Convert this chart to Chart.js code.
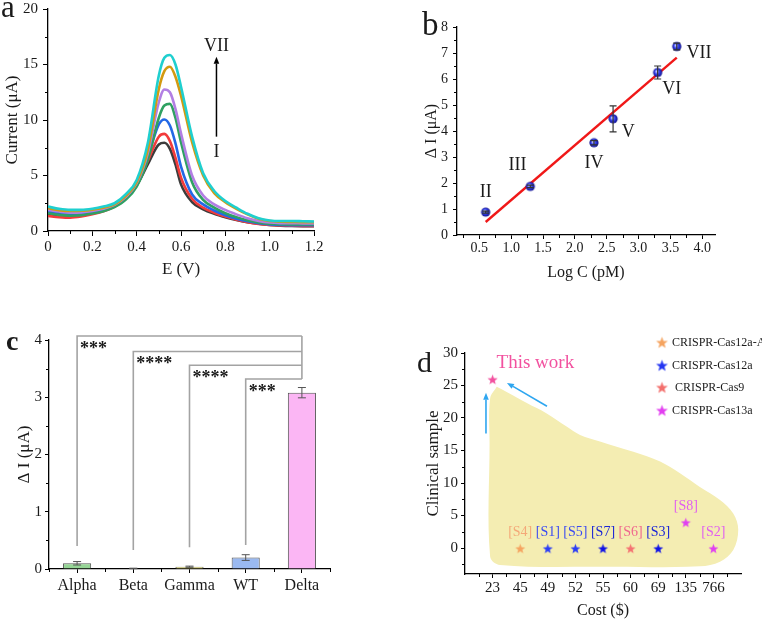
<!DOCTYPE html>
<html><head><meta charset="utf-8">
<script src="https://cdn.jsdelivr.net/npm/chart.js@4.4.1/dist/chart.umd.min.js"></script>
<style>
html,body{margin:0;padding:0;background:#fff;width:762px;height:619px;overflow:hidden;position:relative}
canvas{position:absolute}
</style></head><body>
<canvas id="ca" style="left:0;top:0" width="380" height="300"></canvas>
<canvas id="cb" style="left:380px;top:0" width="382" height="300"></canvas>
<canvas id="cc" style="left:0;top:300px" width="400" height="319"></canvas>
<canvas id="cd" style="left:400px;top:300px" width="362" height="319"></canvas>
<script>
// ---------------- Panel a data ----------------
const potentials = [0,0.05,0.1,0.15,0.2,0.25,0.3,0.35,0.4,0.45,0.5,0.525,0.55,0.575,0.6,0.65,0.7,0.75,0.8,0.85,0.9,0.95,1.0,1.05,1.1,1.15,1.2];
const curveNames = ['I','II','III','IV','V','VI','VII'];
const curveI   = [1.5,1.42,1.38,1.42,1.6,1.85,2.25,2.9,4.1,6.0,7.8,7.95,7.4,6.0,4.2,2.6,1.95,1.55,1.25,1.0,0.8,0.65,0.54,0.48,0.45,0.44,0.44];
const curveII  = [1.35,1.25,1.2,1.3,1.5,1.78,2.2,2.9,4.2,6.3,8.5,8.75,8.1,6.6,4.8,2.9,2.1,1.65,1.3,1.02,0.8,0.64,0.54,0.49,0.47,0.46,0.46];
const curveIII = [1.75,1.6,1.52,1.55,1.7,1.9,2.3,3.0,4.3,6.7,9.6,10.05,9.5,7.9,5.8,3.3,2.4,1.85,1.42,1.1,0.87,0.7,0.6,0.55,0.53,0.52,0.52];
const curveIV  = [1.6,1.45,1.38,1.42,1.57,1.78,2.15,2.8,4.0,6.4,10.2,11.3,11.45,10.2,8.0,4.4,2.8,2.1,1.6,1.25,0.97,0.77,0.66,0.61,0.59,0.58,0.58];
const curveV   = [1.9,1.75,1.65,1.68,1.8,2.0,2.35,3.05,4.3,7.0,11.6,12.75,12.5,11.0,8.8,5.0,3.2,2.4,1.9,1.5,1.15,0.9,0.76,0.71,0.7,0.69,0.68];
const curveVI  = [2.05,1.88,1.8,1.82,1.92,2.1,2.4,3.15,4.4,7.3,12.8,14.4,14.8,13.9,12.2,8.0,5.0,3.4,2.6,2.0,1.5,1.1,0.9,0.84,0.82,0.8,0.8];
const curveVII = [2.2,2.0,1.9,1.9,2.0,2.2,2.5,3.3,4.6,7.9,14.0,15.6,15.85,15.0,13.0,8.5,5.2,3.6,2.7,2.1,1.55,1.15,0.95,0.9,0.9,0.88,0.86];
const aXTicks = [0,0.2,0.4,0.6,0.8,1.0,1.2];
const aYTicks = [0,5,10,15,20];

// ---------------- Panel b data ----------------
const logC = [0.6,1.3,2.3,2.6,3.3,3.6];
const deltaI = [0.88,1.87,3.55,4.47,6.25,7.25];
const deltaIErr = [0.04,0.05,0.08,0.5,0.25,0.13];
const pointNames = ['II','III','IV','V','VI','VII'];
const fitLogC = [0.6,3.6];
const fitDeltaI = [0.5,6.82];
const bXTicks = [0.5,1.0,1.5,2.0,2.5,3.0,3.5,4.0];
const bYTicks = [0,1,2,3,4,5,6,7,8];

// ---------------- Panel c data ----------------
const variants = ['Alpha','Beta','Gamma','WT','Delta'];
const variantSignal = [0.1,0.01,0.04,0.2,3.08];
const variantErr = [0.03,0.004,0.01,0.05,0.09];
const sigFrom = ['Alpha','Beta','Gamma','WT'];
const sigLabels = ['***','****','****','***'];
const sigLevels = [4.07,3.80,3.56,3.32];
const sigBase = [0.4,0.33,0.38,0.42];
const cYTicks = [0,1,2,3,4];

// ---------------- Panel d data ----------------
const costLabels = ['23','45','49','52','55','60','69','135','766'];
const refNames = ['[S4]','[S1]','[S5]','[S7]','[S6]','[S3]','[S8]','[S2]'];
const refCostIndex = [1,2,3,4,5,6,7,8];
const refClinical = [0,0,0,0,0,0,4,0];
const refSystem = ['CRISPR-Cas12a-Ag','CRISPR-Cas12a','CRISPR-Cas12a','CRISPR-Cas12a','CRISPR-Cas9','CRISPR-Cas12a','CRISPR-Cas13a','CRISPR-Cas13a'];
const thisWorkCostIndex = [0];
const thisWorkClinical = [26];
const systems = ['CRISPR-Cas12a-Ag','CRISPR-Cas12a','CRISPR-Cas9','CRISPR-Cas13a'];
const regionCost = [0.15,0.51,1.24,1.96,2.68,3.17,3.89,5.1,6.07,6.79,7.51,8.24,8.72,8.9,8.72,8.24,7.51,4.0,0.27,-0.09,-0.11,-0.09,0.15];
const regionClinical = [24.8,24.0,22.3,20.7,18.7,17.4,16.4,14.8,13.3,11.5,9.4,7.4,5.3,2.8,-0.3,-2.1,-2.8,-2.9,-2.6,-1.3,16.2,23.0,24.8];
const dXTicks = [0,1,2,3,4,5,6,7,8];
const dYTicks = [0,5,10,15,20,25,30];

// ---------------- styles ----------------
const SERIF = "'Liberation Serif','Times New Roman',serif";
Chart.defaults.font.family = SERIF;
Chart.defaults.color = '#1a1a1a';
Chart.defaults.animation = false;
Chart.defaults.plugins.legend.display = false;
Chart.defaults.plugins.tooltip.enabled = false;
const curveColors = ['#3c3c3c','#f23b3b','#2368e6','#2fa162','#b27fe3','#d39a10','#1fcfcf'];
const barColors = ['#96d596','#b9b9e6','#f9f27e','#9ab9f1','#fbb6f4'];
const sysColors = {'CRISPR-Cas12a-Ag':'#f5a460','CRISPR-Cas12a':'#2436f2','CRISPR-Cas9':'#f36f6c','CRISPR-Cas13a':'#e23ff0'};
const refStarColors = ['#f5a460','#2a3cf6','#2a3cf6','#0f12e6','#f47272','#0f12e6','#e040f0','#e040f0'];
const refLabelColors = ['#f4a878','#3a4af2','#3a4af2','#1c26d6','#f0668e','#1c26d6','#e05ff0','#e05ff0'];
const thisWorkColor = '#f2519f';

function starImg(color, r){
  const s = Math.ceil(r*2+2), c = document.createElement('canvas');
  c.width = s; c.height = s;
  const g = c.getContext('2d'); g.fillStyle = color; g.beginPath();
  for (let i=0;i<10;i++){ const a=-Math.PI/2+i*Math.PI/5, rr=i%2?r*0.42:r; g.lineTo(s/2+rr*Math.cos(a), s/2+1+rr*Math.sin(a)); }
  g.closePath(); g.fill(); return c;
}
function sphereImg(r){
  const s = Math.ceil(r*2+2), c = document.createElement('canvas');
  c.width = s; c.height = s;
  const g = c.getContext('2d');
  const gr = g.createRadialGradient(s/2-1.2,s/2-1.2,0.3,s/2,s/2,r);
  gr.addColorStop(0,'#d8dcff'); gr.addColorStop(0.45,'#3a48f2'); gr.addColorStop(1,'#0b0b8c');
  g.fillStyle = gr; g.beginPath(); g.arc(s/2,s/2,r,0,Math.PI*2); g.fill(); return c;
}
function arrow(ctx,x1,y1,x2,y2,color,lw,head){
  ctx.save(); ctx.strokeStyle=color; ctx.fillStyle=color; ctx.lineWidth=lw;
  const a=Math.atan2(y2-y1,x2-x1), hx=x2-head*Math.cos(a), hy=y2-head*Math.sin(a);
  ctx.beginPath(); ctx.moveTo(x1,y1); ctx.lineTo(hx,hy); ctx.stroke();
  ctx.beginPath(); ctx.moveTo(x2,y2);
  ctx.lineTo(hx+head*0.4*Math.sin(a), hy-head*0.4*Math.cos(a));
  ctx.lineTo(hx-head*0.4*Math.sin(a), hy+head*0.4*Math.cos(a));
  ctx.closePath(); ctx.fill(); ctx.restore();
}
const minorTicks = {
  id:'minorTicks',
  afterDraw(chart, args, opts){
    const ctx = chart.ctx, len = opts.len || 3, ca = chart.chartArea;
    ctx.save(); ctx.strokeStyle = '#000'; ctx.lineWidth = 1;
    ['x','y'].forEach(id=>{
      const s = chart.scales[id]; if (!s) return;
      const px = s.ticks.map((t,i)=>s.getPixelForTick(i)).sort((a,b)=>a-b);
      if (px.length < 2) return;
      const step = px[1]-px[0], mids = [];
      for (let i=0;i<px.length-1;i++) mids.push((px[i]+px[i+1])/2);
      mids.push(px[0]-step/2, px[px.length-1]+step/2);
      mids.forEach(p=>{
        ctx.beginPath();
        if (s.isHorizontal()){ if (p<ca.left-0.5||p>ca.right+0.5) return; ctx.moveTo(Math.round(p)+0.5, s.top); ctx.lineTo(Math.round(p)+0.5, s.top+len); }
        else { if (p<ca.top-0.5||p>ca.bottom+0.5) return; ctx.moveTo(s.right, Math.round(p)+0.5); ctx.lineTo(s.right-len, Math.round(p)+0.5); }
        ctx.stroke();
      });
    });
    ctx.restore();
  }
};
Chart.register(minorTicks);

function layoutFor(W,H,area,yW,xH){ return {padding:{left:area.l-yW, top:area.t, right:W-area.r, bottom:H-area.b-xH}}; }
function fixW(w){ return s=>{ s.width=w; s.paddingTop=0; s.paddingBottom=0; s.paddingLeft=0; s.paddingRight=0; }; }
function fixH(h){ return s=>{ s.height=h; s.paddingTop=0; s.paddingBottom=0; s.paddingLeft=0; s.paddingRight=0; }; }
function axis(o){
  return Object.assign({
    grid:{display:true, drawOnChartArea:false, drawTicks:true, tickLength:o.tl||5, color:'#000', lineWidth:1},
    border:{display:true, color:'#000', width:1.3},
    ticks:{font:{size:o.fs, family:SERIF}, padding:o.pad, color:'#1a1a1a', maxRotation:0, autoSkip:false}
  }, o.extra||{});
}
function setTicks(arr){ return s=>{ s.ticks = arr.map(v=>({value:v})); }; }

// ================= Panel a =================
const aSeries = [curveI,curveII,curveIII,curveIV,curveV,curveVI,curveVII];
const annA = {x:0.76, top:16.6, bottom:7.1, from:8.5, to:15.7};
new Chart(document.getElementById('ca'), {
  type:'line',
  data:{ datasets: aSeries.map((arr,i)=>({
    label: curveNames[i], data: arr.map((v,j)=>({x:potentials[j], y:v})),
    borderColor: curveColors[i], borderWidth:2.6, pointRadius:0, cubicInterpolationMode:'monotone', order: 6-i, fill:false
  }))},
  options:{
    responsive:false, parsing:true,
    layout: layoutFor(380,300,{l:48,t:9,r:314,b:231},48,50),
    scales:{
      x: Object.assign(axis({fs:15,pad:2,tl:5}), {type:'linear', min:0, max:1.2, afterBuildTicks:setTicks(aXTicks), afterFit:fixH(50),
          title:{display:true, text:'E (V)', font:{size:17,family:SERIF}, padding:{top:0,bottom:1}, color:'#1a1a1a'}}),
      y: Object.assign(axis({fs:15,pad:5,tl:5}), {type:'linear', min:0, max:20, afterBuildTicks:setTicks(aYTicks), afterFit:fixW(48),
          title:{display:true, text:'Current (μA)', font:{size:17,family:SERIF}, padding:{top:2,bottom:0}, color:'#1a1a1a'}})
    },
    plugins:{minorTicks:{len:3}}
  },
  plugins:[{id:'annA', afterDraw(chart){
    const {ctx, scales:{x,y}} = chart;
    ctx.save();
    ctx.fillStyle='#1a1a1a'; ctx.font='18px '+SERIF; ctx.textAlign='center'; ctx.textBaseline='middle';
    const px = x.getPixelForValue(annA.x);
    ctx.fillText('VII', px, y.getPixelForValue(annA.top));
    ctx.fillText('I', px, y.getPixelForValue(annA.bottom));
    arrow(ctx, px, y.getPixelForValue(annA.from), px, y.getPixelForValue(annA.to), '#000', 1.5, 7);
    ctx.font='31px '+SERIF; ctx.textAlign='left'; ctx.textBaseline='alphabetic';
    ctx.fillText('a', 1, 17);
    ctx.restore();
  }}]
});

// ================= Panel b =================
const annB = {dx:[0,-0.2,0,0.24,0.22,0.35], dy:[0.77,0.83,-0.79,-0.5,-0.65,-0.26]};
new Chart(document.getElementById('cb'), {
  type:'scatter',
  data:{ datasets:[
    {label:'ΔI', data: logC.map((v,i)=>({x:v, y:deltaI[i]})), pointStyle: sphereImg(4.6), pointRadius:5, order:0},
    {type:'line', label:'fit', data: fitLogC.map((v,i)=>({x:v, y:fitDeltaI[i]})), borderColor:'#f01818', borderWidth:2.4, pointRadius:0, order:1, fill:false}
  ]},
  options:{
    responsive:false,
    layout: layoutFor(382,300,{l:77,t:27,r:335,b:235},50,55),
    scales:{
      x: Object.assign(axis({fs:14,pad:1,tl:4}), {type:'linear', min:0.15, max:4.2, afterBuildTicks:setTicks(bXTicks), afterFit:fixH(55),
          ticks:{font:{size:14,family:SERIF}, padding:1, color:'#1a1a1a', maxRotation:0, autoSkip:false, callback:v=>v.toFixed(1)},
          title:{display:true, text:'Log C (pM)', font:{size:16,family:SERIF}, padding:{top:0,bottom:8}, color:'#1a1a1a'}}),
      y: Object.assign(axis({fs:14,pad:5,tl:4}), {type:'linear', min:0, max:8, afterBuildTicks:setTicks(bYTicks), afterFit:fixW(50),
          title:{display:true, text:'Δ I (μA)', font:{size:16,family:SERIF}, padding:{top:15,bottom:0}, color:'#1a1a1a'}})
    },
    plugins:{minorTicks:{len:3}}
  },
  plugins:[{id:'annB', afterDatasetsDraw(chart){
    const {ctx, scales:{x,y}} = chart;
    ctx.save(); ctx.strokeStyle='#333'; ctx.lineWidth=1.2;
    logC.forEach((v,i)=>{
      const px=x.getPixelForValue(v), p1=y.getPixelForValue(deltaI[i]-deltaIErr[i]), p2=y.getPixelForValue(deltaI[i]+deltaIErr[i]);
      ctx.beginPath(); ctx.moveTo(px,p1); ctx.lineTo(px,p2);
      ctx.moveTo(px-3.5,p1); ctx.lineTo(px+3.5,p1); ctx.moveTo(px-3.5,p2); ctx.lineTo(px+3.5,p2); ctx.stroke();
    });
    ctx.restore();
  }, afterDraw(chart){
    const {ctx, scales:{x,y}} = chart;
    ctx.save(); ctx.fillStyle='#1a1a1a'; ctx.font='18px '+SERIF; ctx.textAlign='center'; ctx.textBaseline='middle';
    pointNames.forEach((n,i)=> ctx.fillText(n, x.getPixelForValue(logC[i]+annB.dx[i]), y.getPixelForValue(deltaI[i]+annB.dy[i])));
    ctx.font='33px '+SERIF; ctx.textAlign='left'; ctx.textBaseline='alphabetic';
    ctx.fillText('b', 42, 35);
    ctx.restore();
  }}]
});

// ================= Panel c =================
new Chart(document.getElementById('cc'), {
  type:'bar',
  data:{ labels: variants, datasets:[{label:'ΔI', data: variantSignal, backgroundColor: barColors, borderColor:'#555', borderWidth:1, barPercentage:0.5, categoryPercentage:1}]},
  options:{
    responsive:false,
    layout: layoutFor(400,319,{l:49,t:40,r:330,b:269},49,45),
    scales:{
      x: Object.assign(axis({fs:16,pad:3,tl:4}), {afterFit:fixH(45),
          grid:{display:true, drawOnChartArea:false, drawTicks:true, tickLength:4, color:'#000', offset:false}}),
      y: Object.assign(axis({fs:15,pad:3,tl:4}), {type:'linear', min:0, max:4, afterBuildTicks:setTicks(cYTicks), afterFit:fixW(49),
          title:{display:true, text:'Δ I (μA)', font:{size:17,family:SERIF}, padding:{top:14,bottom:0}, color:'#1a1a1a'}})
    },
    plugins:{minorTicks:{len:3}}
  },
  plugins:[{id:'annC', afterDatasetsDraw(chart){
    const {ctx, scales:{x,y}} = chart;
    ctx.save(); ctx.strokeStyle='#555'; ctx.lineWidth=1;
    variants.forEach((v,i)=>{
      const px=x.getPixelForValue(i), p1=y.getPixelForValue(variantSignal[i]-variantErr[i]), p2=y.getPixelForValue(variantSignal[i]+variantErr[i]);
      ctx.beginPath(); ctx.moveTo(px,p1); ctx.lineTo(px,p2);
      ctx.moveTo(px-4,p1); ctx.lineTo(px+4,p1); ctx.moveTo(px-4,p2); ctx.lineTo(px+4,p2); ctx.stroke();
    });
    // significance brackets
    const dx = x.getPixelForValue(variants.indexOf('Delta'));
    ctx.strokeStyle='#a3a3a3'; ctx.lineWidth=1.6;
    sigFrom.forEach((name,i)=>{
      const px = x.getPixelForValue(variants.indexOf(name)), top = y.getPixelForValue(sigLevels[i]);
      ctx.beginPath(); ctx.moveTo(px, y.getPixelForValue(sigBase[i])); ctx.lineTo(px, top); ctx.lineTo(dx, top); ctx.stroke();
    });
    ctx.beginPath(); ctx.moveTo(dx, y.getPixelForValue(Math.max(...sigLevels))); ctx.lineTo(dx, y.getPixelForValue(Math.min(...sigLevels))); ctx.stroke();
    ctx.fillStyle='#1a1a1a'; ctx.font='bold 18px '+SERIF; ctx.textAlign='left'; ctx.textBaseline='top';
    sigFrom.forEach((name,i)=>{
      const px = x.getPixelForValue(variants.indexOf(name)), top = y.getPixelForValue(sigLevels[i]);
      ctx.fillText(sigLabels[i], px+3, top+4);
    });
    ctx.font='bold 28px '+SERIF; ctx.textBaseline='alphabetic';
    ctx.fillText('c', 6, 50);
    ctx.restore();
  }}]
});

// ================= Panel d =================
const refStarImgs = refStarColors.map(c=>starImg(c,5.2));
const annD = {labelLift:1.8, thisWorkLabel:{x:1.55, y:28.5}, upArrow:{x:-0.24, from:17.6, to:23.9}, diagArrow:{x1:1.97, y1:21.8, x2:0.52, y2:25.4}};
new Chart(document.getElementById('cd'), {
  type:'scatter',
  data:{ datasets:[
    {label:'This work', data: thisWorkCostIndex.map((v,i)=>({x:v, y:thisWorkClinical[i]})), pointStyle: starImg(thisWorkColor,5.4), pointRadius:6, order:0},
    {label:'References', data: refCostIndex.map((v,i)=>({x:v, y:refClinical[i]})), pointStyle: refStarImgs, pointRadius:6, order:1},
    {type:'line', label:'region', data: regionCost.map((v,i)=>({x:v, y:regionClinical[i]})), borderWidth:0, borderColor:'rgba(0,0,0,0)', backgroundColor:'#f4edb2', pointRadius:0, tension:0.35, fill:'shape', order:5}
  ]},
  options:{
    responsive:false,
    layout: layoutFor(362,319,{l:65,t:53,r:341,b:274},45,45),
    scales:{
      x: Object.assign(axis({fs:15,pad:1,tl:4}), {type:'linear', min:-1, max:9, afterBuildTicks:setTicks(dXTicks), afterFit:fixH(45),
          ticks:{font:{size:15,family:SERIF}, padding:1, color:'#1a1a1a', maxRotation:0, autoSkip:false, callback:v=>costLabels[v]},
          title:{display:true, text:'Cost ($)', font:{size:16,family:SERIF,lineHeight:1}, padding:{top:0,bottom:0}, color:'#1a1a1a'}}),
      y: Object.assign(axis({fs:15,pad:3,tl:4}), {type:'linear', min:-4, max:30, afterBuildTicks:setTicks(dYTicks), afterFit:fixW(45),
          title:{display:true, text:'Clinical sample', font:{size:17,family:SERIF}, padding:{top:3,bottom:0}, color:'#1a1a1a'}})
    },
    plugins:{minorTicks:{len:3}}
  },
  plugins:[{id:'annD', afterDraw(chart){
    const {ctx, scales:{x,y}} = chart;
    ctx.save();
    ctx.font='14px '+SERIF; ctx.textAlign='center'; ctx.textBaseline='alphabetic';
    refNames.forEach((n,i)=>{ ctx.fillStyle=refLabelColors[i]; ctx.fillText(n, x.getPixelForValue(refCostIndex[i]), y.getPixelForValue(refClinical[i]+annD.labelLift)); });
    ctx.fillStyle=thisWorkColor; ctx.font='19px '+SERIF; ctx.textBaseline='middle';
    ctx.fillText('This work', x.getPixelForValue(annD.thisWorkLabel.x), y.getPixelForValue(annD.thisWorkLabel.y));
    const ua=annD.upArrow, da=annD.diagArrow;
    arrow(ctx, x.getPixelForValue(ua.x), y.getPixelForValue(ua.from), x.getPixelForValue(ua.x), y.getPixelForValue(ua.to), '#2ea6f0', 1.6, 7);
    arrow(ctx, x.getPixelForValue(da.x1), y.getPixelForValue(da.y1), x.getPixelForValue(da.x2), y.getPixelForValue(da.y2), '#2ea6f0', 1.6, 7);
    // legend
    const rows=[42,65,87,110], tx=[272,272,275,272];
    ctx.font='12px '+SERIF; ctx.textAlign='left'; ctx.textBaseline='middle';
    systems.forEach((s,i)=>{
      const img=starImg(sysColors[s],6.2);
      ctx.drawImage(img, 262-img.width/2, rows[i]-img.height/2);
      ctx.fillStyle='#1a1a1a'; ctx.fillText(s, tx[i], rows[i]+1);
    });
    ctx.fillStyle='#1a1a1a'; ctx.font='30px '+SERIF; ctx.textBaseline='alphabetic';
    ctx.fillText('d', 17, 72);
    ctx.restore();
  }}]
});
</script>
</body></html>
